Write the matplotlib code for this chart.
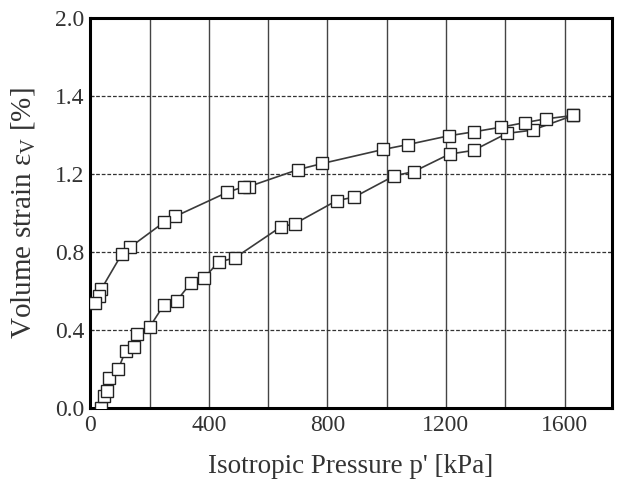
import matplotlib
matplotlib.use("Agg")
import matplotlib.pyplot as plt

# loading branch (lower curve), kPa / %
p_load = [35, 46, 58, 64, 95, 119, 148, 157, 201, 248, 291, 340, 384, 433, 487,
          642, 690, 832, 890, 1026, 1091, 1212, 1293, 1405, 1492, 1629]
ev_load = [0.0, 0.063, 0.089, 0.153, 0.201, 0.293, 0.311, 0.381, 0.417, 0.528, 0.548,
           0.643, 0.667, 0.749, 0.769, 0.928, 0.945, 1.064, 1.081, 1.191, 1.212,
           1.302, 1.321, 1.408, 1.425, 1.500]

# unloading branch (upper curve)
p_unload = [1629, 1538, 1468, 1386, 1293, 1210, 1072, 989, 783, 700, 534, 519, 462,
            286, 249, 134, 107, 37, 29, 17]
ev_unload = [1.500, 1.483, 1.464, 1.440, 1.416, 1.396, 1.351, 1.326, 1.254, 1.222,
             1.135, 1.135, 1.106, 0.982, 0.953, 0.824, 0.791, 0.609, 0.574, 0.536]

xticks = [0, 400, 800, 1200, 1600]
yticks = [0.0, 0.4, 0.8, 1.2, 1.6, 2.0]
ytick_labels = ["0.0", "0.4", "0.8", "1.2", "1.4", "2.0"]

plt.rcParams["font.family"] = ["Liberation Serif", "DejaVu Serif"]
plt.rcParams["mathtext.fontset"] = "custom"
plt.rcParams["mathtext.rm"] = "Liberation Serif"
plt.rcParams["mathtext.it"] = "Liberation Serif:italic"

fig = plt.figure(figsize=(6.2, 4.86), dpi=100)
ax = fig.add_axes([0.1456, 0.1605, 0.8414, 0.8025])

mk = dict(marker="s", markersize=8.5, markerfacecolor="white", markeredgecolor="#222222",
          markeredgewidth=1.0, color="#3a3a3a", linewidth=1.2)
ax.plot(p_load, ev_load, **mk, zorder=3)
ax.plot(p_unload, ev_unload, **mk, zorder=3)

ax.set_xlim(0, 1760)
ax.set_ylim(0, 2.0)
ax.set_xticks(xticks)
ax.set_xticks(range(200, 1800, 200), minor=True)
ax.set_yticks(yticks)
ax.set_yticklabels(ytick_labels)

ax.grid(axis="x", which="both", color="#444444", linewidth=1.0, linestyle="-")
ax.grid(axis="y", which="major", color="#333333", linewidth=0.9, linestyle=(0, (3, 1.5)))
ax.set_axisbelow(True)

ax.tick_params(axis="both", which="both", direction="in", length=3, labelsize=17,
               right=True, colors="#333333", labelcolor="#333333")
ax.tick_params(axis="x", which="both", length=0, pad=5)
ax.tick_params(axis="y", pad=4)
for s in ax.spines.values():
    s.set_linewidth(2.2)
    s.set_color("black")

ax.set_xlabel("Isotropic Pressure p' [kPa]", fontsize=19.5, labelpad=13, color="#333333")
ax.set_ylabel(r"Volume strain $\mathregular{\varepsilon_V}$ [%]", fontsize=21, labelpad=13,
              color="#333333")

fig.savefig("out.png", dpi=100)
